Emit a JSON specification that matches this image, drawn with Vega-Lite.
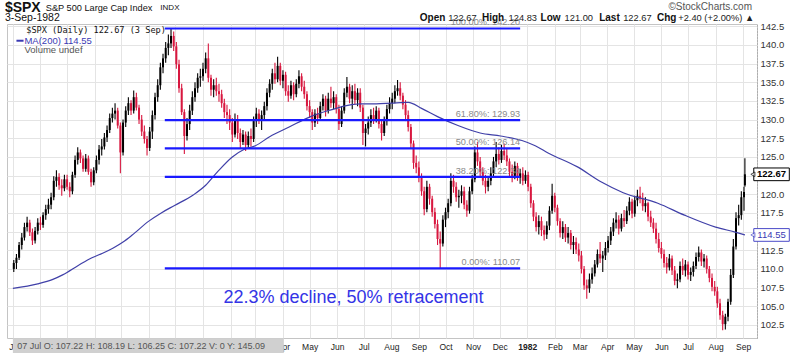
{
"$schema":"https://vega.github.io/schema/vega-lite/v6.json",
"autosize":{"type":"none"},
"padding":{"left":7,"right":43,"top":24,"bottom":15},
"width":750,"height":314,
"background":"#ffffff",
"config":{"font":"Liberation Sans","view":{"stroke":"#c4c4c4"}},
"datasets":{
"px":[
{"d":"1980-06-02","o":110.0,"h":111.2,"l":109.6,"c":110.8},
{"d":"1980-06-05","o":110.8,"h":112.0,"l":110.0,"c":111.5},
{"d":"1980-06-08","o":111.5,"h":113.6,"l":111.2,"c":113.2},
{"d":"1980-06-11","o":113.2,"h":114.8,"l":112.6,"c":114.2},
{"d":"1980-06-14","o":114.2,"h":116.2,"l":113.8,"c":115.6},
{"d":"1980-06-17","o":115.6,"h":117.0,"l":115.0,"c":116.2},
{"d":"1980-06-20","o":116.2,"h":116.6,"l":114.4,"c":114.9},
{"d":"1980-06-23","o":114.9,"h":115.4,"l":113.2,"c":113.8},
{"d":"1980-06-26","o":113.8,"h":115.6,"l":113.4,"c":115.1},
{"d":"1980-06-29","o":115.1,"h":116.8,"l":114.6,"c":116.2},
{"d":"1980-07-02","o":116.2,"h":117.0,"l":115.2,"c":115.9},
{"d":"1980-07-05","o":115.9,"h":117.6,"l":115.5,"c":117.2},
{"d":"1980-07-08","o":117.2,"h":118.6,"l":116.6,"c":118.0},
{"d":"1980-07-11","o":118.0,"h":119.4,"l":117.4,"c":118.6},
{"d":"1980-07-14","o":118.6,"h":120.2,"l":118.0,"c":119.6},
{"d":"1980-07-17","o":119.6,"h":122.4,"l":119.2,"c":121.8},
{"d":"1980-07-20","o":121.8,"h":123.2,"l":121.0,"c":122.3},
{"d":"1980-07-23","o":122.3,"h":122.8,"l":120.6,"c":121.2},
{"d":"1980-07-26","o":121.2,"h":122.0,"l":119.8,"c":120.8},
{"d":"1980-07-29","o":120.8,"h":122.6,"l":120.4,"c":122.0},
{"d":"1980-08-01","o":122.0,"h":122.6,"l":120.6,"c":121.0},
{"d":"1980-08-04","o":121.0,"h":121.6,"l":119.6,"c":120.4},
{"d":"1980-08-07","o":120.4,"h":123.0,"l":120.0,"c":122.6},
{"d":"1980-08-10","o":122.6,"h":125.2,"l":122.2,"c":124.6},
{"d":"1980-08-13","o":124.6,"h":126.3,"l":124.0,"c":125.6},
{"d":"1980-08-16","o":125.6,"h":126.0,"l":124.2,"c":124.8},
{"d":"1980-08-19","o":124.8,"h":125.2,"l":123.0,"c":123.4},
{"d":"1980-08-22","o":123.4,"h":125.4,"l":123.0,"c":124.8},
{"d":"1980-08-25","o":124.8,"h":125.2,"l":122.6,"c":123.0},
{"d":"1980-08-28","o":123.0,"h":123.4,"l":121.0,"c":121.6},
{"d":"1980-08-31","o":121.6,"h":123.6,"l":121.2,"c":123.2},
{"d":"1980-09-03","o":123.2,"h":125.2,"l":122.8,"c":124.6},
{"d":"1980-09-06","o":124.6,"h":126.6,"l":124.0,"c":126.0},
{"d":"1980-09-09","o":126.0,"h":127.4,"l":125.2,"c":126.4},
{"d":"1980-09-12","o":126.4,"h":128.2,"l":126.0,"c":127.6},
{"d":"1980-09-15","o":127.6,"h":129.2,"l":127.0,"c":128.6},
{"d":"1980-09-18","o":128.6,"h":130.8,"l":128.2,"c":130.2},
{"d":"1980-09-21","o":130.2,"h":131.6,"l":129.6,"c":130.8},
{"d":"1980-09-24","o":130.8,"h":132.2,"l":130.0,"c":131.2},
{"d":"1980-09-27","o":131.2,"h":131.6,"l":128.8,"c":129.2},
{"d":"1980-09-30","o":129.2,"h":129.6,"l":122.8,"c":125.6},
{"d":"1980-10-03","o":125.6,"h":130.0,"l":125.2,"c":129.6},
{"d":"1980-10-06","o":129.6,"h":131.8,"l":129.0,"c":131.2},
{"d":"1980-10-09","o":131.2,"h":133.0,"l":130.6,"c":132.2},
{"d":"1980-10-12","o":132.2,"h":132.6,"l":130.6,"c":131.2},
{"d":"1980-10-15","o":131.2,"h":133.9,"l":130.8,"c":133.0},
{"d":"1980-10-18","o":133.0,"h":133.6,"l":131.2,"c":131.6},
{"d":"1980-10-21","o":131.6,"h":132.0,"l":129.4,"c":130.0},
{"d":"1980-10-24","o":130.0,"h":130.6,"l":127.8,"c":128.4},
{"d":"1980-10-27","o":128.4,"h":129.2,"l":126.8,"c":127.4},
{"d":"1980-10-30","o":127.4,"h":127.8,"l":125.2,"c":126.2},
{"d":"1980-11-02","o":126.2,"h":129.0,"l":125.8,"c":128.4},
{"d":"1980-11-05","o":128.4,"h":131.2,"l":127.4,"c":130.6},
{"d":"1980-11-08","o":130.6,"h":133.6,"l":130.0,"c":133.0},
{"d":"1980-11-11","o":133.0,"h":135.4,"l":132.4,"c":134.6},
{"d":"1980-11-14","o":134.6,"h":137.6,"l":134.0,"c":137.0},
{"d":"1980-11-17","o":137.0,"h":138.8,"l":136.2,"c":138.2},
{"d":"1980-11-20","o":138.2,"h":140.4,"l":137.6,"c":139.6},
{"d":"1980-11-23","o":139.6,"h":141.4,"l":138.6,"c":140.2},
{"d":"1980-11-26","o":140.2,"h":142.2,"l":139.6,"c":141.2},
{"d":"1980-11-29","o":141.2,"h":141.8,"l":139.2,"c":139.8},
{"d":"1980-12-02","o":139.8,"h":140.4,"l":136.8,"c":137.4},
{"d":"1980-12-05","o":137.4,"h":138.0,"l":133.6,"c":134.2},
{"d":"1980-12-08","o":134.2,"h":134.8,"l":130.6,"c":131.0},
{"d":"1980-12-11","o":131.0,"h":131.4,"l":125.4,"c":127.8},
{"d":"1980-12-14","o":127.8,"h":130.2,"l":127.2,"c":129.4},
{"d":"1980-12-17","o":129.4,"h":132.0,"l":128.6,"c":131.2},
{"d":"1980-12-20","o":131.2,"h":133.8,"l":130.6,"c":133.0},
{"d":"1980-12-23","o":133.0,"h":135.0,"l":132.4,"c":134.2},
{"d":"1980-12-26","o":134.2,"h":136.2,"l":133.6,"c":135.6},
{"d":"1980-12-29","o":135.6,"h":136.8,"l":134.4,"c":135.8},
{"d":"1981-01-01","o":135.8,"h":137.6,"l":135.2,"c":136.8},
{"d":"1981-01-04","o":136.8,"h":139.0,"l":136.2,"c":138.2},
{"d":"1981-01-07","o":138.2,"h":140.2,"l":135.0,"c":135.6},
{"d":"1981-01-10","o":135.6,"h":136.0,"l":133.2,"c":134.0},
{"d":"1981-01-13","o":134.0,"h":135.4,"l":133.0,"c":134.6},
{"d":"1981-01-16","o":134.6,"h":135.6,"l":133.2,"c":133.8},
{"d":"1981-01-19","o":133.8,"h":134.8,"l":132.4,"c":133.4},
{"d":"1981-01-22","o":133.4,"h":134.0,"l":131.6,"c":132.2},
{"d":"1981-01-25","o":132.2,"h":132.8,"l":130.2,"c":131.0},
{"d":"1981-01-28","o":131.0,"h":132.0,"l":129.4,"c":130.6},
{"d":"1981-01-31","o":130.6,"h":131.4,"l":128.6,"c":129.6},
{"d":"1981-02-03","o":129.6,"h":130.2,"l":127.0,"c":128.0},
{"d":"1981-02-06","o":128.0,"h":130.8,"l":127.6,"c":130.0},
{"d":"1981-02-09","o":130.0,"h":130.6,"l":127.4,"c":128.2},
{"d":"1981-02-12","o":128.2,"h":128.8,"l":126.2,"c":127.0},
{"d":"1981-02-15","o":127.0,"h":128.6,"l":126.6,"c":128.0},
{"d":"1981-02-18","o":128.0,"h":128.4,"l":125.8,"c":126.6},
{"d":"1981-02-21","o":126.6,"h":128.4,"l":126.2,"c":127.8},
{"d":"1981-02-24","o":127.8,"h":128.8,"l":126.4,"c":127.4},
{"d":"1981-02-27","o":127.4,"h":130.4,"l":127.0,"c":129.8},
{"d":"1981-03-02","o":129.8,"h":131.6,"l":129.0,"c":130.8},
{"d":"1981-03-05","o":130.8,"h":131.4,"l":129.4,"c":130.0},
{"d":"1981-03-08","o":130.0,"h":131.2,"l":128.6,"c":130.6},
{"d":"1981-03-11","o":130.6,"h":132.4,"l":130.0,"c":131.8},
{"d":"1981-03-14","o":131.8,"h":134.2,"l":131.2,"c":133.6},
{"d":"1981-03-17","o":133.6,"h":135.4,"l":133.0,"c":134.8},
{"d":"1981-03-20","o":134.8,"h":136.8,"l":134.0,"c":136.2},
{"d":"1981-03-23","o":136.2,"h":137.6,"l":134.8,"c":135.4},
{"d":"1981-03-26","o":135.4,"h":138.4,"l":135.0,"c":137.2},
{"d":"1981-03-29","o":137.2,"h":137.6,"l":134.6,"c":135.2},
{"d":"1981-04-01","o":135.2,"h":136.6,"l":134.2,"c":136.0},
{"d":"1981-04-04","o":136.0,"h":136.4,"l":133.2,"c":133.8},
{"d":"1981-04-07","o":133.8,"h":134.6,"l":132.4,"c":133.2},
{"d":"1981-04-10","o":133.2,"h":135.2,"l":132.8,"c":134.6},
{"d":"1981-04-13","o":134.6,"h":135.0,"l":132.6,"c":133.4},
{"d":"1981-04-16","o":133.4,"h":135.4,"l":133.0,"c":134.8},
{"d":"1981-04-19","o":134.8,"h":136.6,"l":134.2,"c":135.8},
{"d":"1981-04-22","o":135.8,"h":136.2,"l":133.8,"c":134.4},
{"d":"1981-04-25","o":134.4,"h":135.2,"l":132.8,"c":133.4},
{"d":"1981-04-28","o":133.4,"h":133.8,"l":131.2,"c":131.8},
{"d":"1981-05-01","o":131.8,"h":132.6,"l":130.2,"c":131.0},
{"d":"1981-05-04","o":131.0,"h":131.4,"l":128.6,"c":129.6},
{"d":"1981-05-07","o":129.6,"h":131.4,"l":129.0,"c":130.8},
{"d":"1981-05-10","o":130.8,"h":131.6,"l":129.4,"c":130.2},
{"d":"1981-05-13","o":130.2,"h":132.4,"l":129.8,"c":131.8},
{"d":"1981-05-16","o":131.8,"h":133.4,"l":131.2,"c":132.8},
{"d":"1981-05-19","o":132.8,"h":133.2,"l":130.4,"c":131.2},
{"d":"1981-05-22","o":131.2,"h":133.6,"l":130.8,"c":132.8},
{"d":"1981-05-25","o":132.8,"h":134.4,"l":131.6,"c":132.2},
{"d":"1981-05-28","o":132.2,"h":133.8,"l":131.4,"c":133.0},
{"d":"1981-05-31","o":133.0,"h":133.4,"l":130.8,"c":131.4},
{"d":"1981-06-03","o":131.4,"h":132.0,"l":128.6,"c":129.4},
{"d":"1981-06-06","o":129.4,"h":131.8,"l":129.0,"c":131.2},
{"d":"1981-06-09","o":131.2,"h":134.2,"l":130.8,"c":133.6},
{"d":"1981-06-12","o":133.6,"h":135.7,"l":133.0,"c":134.4},
{"d":"1981-06-15","o":134.4,"h":134.8,"l":132.2,"c":132.8},
{"d":"1981-06-18","o":132.8,"h":134.6,"l":131.4,"c":133.8},
{"d":"1981-06-21","o":133.8,"h":134.8,"l":132.0,"c":132.6},
{"d":"1981-06-24","o":132.6,"h":134.2,"l":131.8,"c":133.6},
{"d":"1981-06-27","o":133.6,"h":134.2,"l":131.0,"c":131.6},
{"d":"1981-06-30","o":131.6,"h":132.0,"l":126.6,"c":128.2},
{"d":"1981-07-03","o":128.2,"h":129.4,"l":126.4,"c":128.8},
{"d":"1981-07-06","o":128.8,"h":130.4,"l":128.0,"c":129.6},
{"d":"1981-07-09","o":129.6,"h":131.4,"l":129.0,"c":130.6},
{"d":"1981-07-12","o":130.6,"h":131.6,"l":129.4,"c":130.0},
{"d":"1981-07-15","o":130.0,"h":131.8,"l":129.6,"c":131.2},
{"d":"1981-07-18","o":131.2,"h":131.6,"l":128.8,"c":129.4},
{"d":"1981-07-21","o":129.4,"h":129.8,"l":127.2,"c":128.2},
{"d":"1981-07-24","o":128.2,"h":130.4,"l":127.8,"c":129.8},
{"d":"1981-07-27","o":129.8,"h":132.0,"l":129.2,"c":131.4},
{"d":"1981-07-30","o":131.4,"h":133.0,"l":130.8,"c":132.2},
{"d":"1981-08-02","o":132.2,"h":133.6,"l":131.4,"c":132.8},
{"d":"1981-08-05","o":132.8,"h":134.6,"l":132.2,"c":133.8},
{"d":"1981-08-08","o":133.8,"h":135.3,"l":133.2,"c":134.2},
{"d":"1981-08-11","o":134.2,"h":135.0,"l":132.6,"c":133.2},
{"d":"1981-08-14","o":133.2,"h":133.6,"l":131.4,"c":132.0},
{"d":"1981-08-17","o":132.0,"h":132.6,"l":129.8,"c":130.6},
{"d":"1981-08-20","o":130.6,"h":131.2,"l":128.4,"c":129.0},
{"d":"1981-08-23","o":129.0,"h":129.4,"l":126.2,"c":126.8},
{"d":"1981-08-26","o":126.8,"h":127.2,"l":123.4,"c":124.2},
{"d":"1981-08-29","o":124.2,"h":125.2,"l":122.8,"c":123.6},
{"d":"1981-09-01","o":123.6,"h":124.4,"l":121.6,"c":122.4},
{"d":"1981-09-04","o":122.4,"h":122.8,"l":119.8,"c":120.4},
{"d":"1981-09-07","o":120.4,"h":121.0,"l":117.2,"c":118.0},
{"d":"1981-09-10","o":118.0,"h":121.8,"l":117.6,"c":121.0},
{"d":"1981-09-13","o":121.0,"h":121.4,"l":118.6,"c":119.4},
{"d":"1981-09-16","o":119.4,"h":119.8,"l":117.0,"c":117.6},
{"d":"1981-09-19","o":117.6,"h":118.2,"l":115.4,"c":116.0},
{"d":"1981-09-22","o":116.0,"h":116.6,"l":113.2,"c":114.0},
{"d":"1981-09-25","o":114.0,"h":115.0,"l":110.07,"c":113.4},
{"d":"1981-09-28","o":113.4,"h":117.2,"l":113.0,"c":116.6},
{"d":"1981-10-01","o":116.6,"h":118.2,"l":115.6,"c":117.6},
{"d":"1981-10-04","o":117.6,"h":119.4,"l":116.8,"c":118.8},
{"d":"1981-10-07","o":118.8,"h":122.8,"l":118.4,"c":121.8},
{"d":"1981-10-10","o":121.8,"h":122.6,"l":120.2,"c":121.0},
{"d":"1981-10-13","o":121.0,"h":121.6,"l":119.0,"c":119.6},
{"d":"1981-10-16","o":119.6,"h":120.6,"l":118.2,"c":119.8},
{"d":"1981-10-19","o":119.8,"h":121.2,"l":118.8,"c":120.4},
{"d":"1981-10-22","o":120.4,"h":121.0,"l":118.0,"c":118.6},
{"d":"1981-10-25","o":118.6,"h":119.2,"l":117.0,"c":117.8},
{"d":"1981-10-28","o":117.8,"h":121.0,"l":117.4,"c":120.4},
{"d":"1981-10-31","o":120.4,"h":122.6,"l":120.0,"c":122.0},
{"d":"1981-11-03","o":122.0,"h":126.4,"l":121.6,"c":125.6},
{"d":"1981-11-06","o":125.6,"h":127.0,"l":123.8,"c":124.4},
{"d":"1981-11-09","o":124.4,"h":125.0,"l":122.4,"c":123.0},
{"d":"1981-11-12","o":123.0,"h":123.6,"l":121.2,"c":121.8},
{"d":"1981-11-15","o":121.8,"h":122.6,"l":120.1,"c":121.0},
{"d":"1981-11-18","o":121.0,"h":122.4,"l":120.4,"c":121.8},
{"d":"1981-11-21","o":121.8,"h":123.6,"l":121.2,"c":122.8},
{"d":"1981-11-24","o":122.8,"h":125.0,"l":122.2,"c":124.4},
{"d":"1981-11-27","o":124.4,"h":127.0,"l":123.6,"c":125.4},
{"d":"1981-11-30","o":125.4,"h":126.3,"l":124.0,"c":124.6},
{"d":"1981-12-03","o":124.6,"h":126.6,"l":124.2,"c":125.8},
{"d":"1981-12-06","o":125.8,"h":126.8,"l":124.6,"c":125.2},
{"d":"1981-12-09","o":125.2,"h":126.2,"l":123.8,"c":124.4},
{"d":"1981-12-12","o":124.4,"h":124.8,"l":122.4,"c":123.0},
{"d":"1981-12-15","o":123.0,"h":124.0,"l":121.6,"c":122.4},
{"d":"1981-12-18","o":122.4,"h":124.4,"l":122.0,"c":123.8},
{"d":"1981-12-21","o":123.8,"h":124.2,"l":121.8,"c":122.2},
{"d":"1981-12-24","o":122.2,"h":123.4,"l":121.4,"c":122.8},
{"d":"1981-12-27","o":122.8,"h":123.6,"l":121.2,"c":121.8},
{"d":"1981-12-30","o":121.8,"h":123.2,"l":121.4,"c":122.6},
{"d":"1982-01-02","o":122.6,"h":123.0,"l":120.4,"c":121.0},
{"d":"1982-01-05","o":121.0,"h":121.4,"l":118.2,"c":118.8},
{"d":"1982-01-08","o":118.8,"h":119.2,"l":116.4,"c":117.0},
{"d":"1982-01-11","o":117.0,"h":117.6,"l":115.0,"c":115.6},
{"d":"1982-01-14","o":115.6,"h":117.2,"l":114.6,"c":116.4},
{"d":"1982-01-17","o":116.4,"h":117.0,"l":114.4,"c":115.2},
{"d":"1982-01-20","o":115.2,"h":115.8,"l":113.8,"c":114.6},
{"d":"1982-01-23","o":114.6,"h":116.4,"l":114.0,"c":115.8},
{"d":"1982-01-26","o":115.8,"h":118.4,"l":115.2,"c":117.8},
{"d":"1982-01-29","o":117.8,"h":121.4,"l":117.4,"c":119.8},
{"d":"1982-02-01","o":119.8,"h":120.2,"l":117.6,"c":118.2},
{"d":"1982-02-04","o":118.2,"h":118.6,"l":115.8,"c":116.4},
{"d":"1982-02-07","o":116.4,"h":116.8,"l":114.2,"c":114.8},
{"d":"1982-02-10","o":114.8,"h":116.4,"l":114.0,"c":115.6},
{"d":"1982-02-13","o":115.6,"h":116.0,"l":113.6,"c":114.2},
{"d":"1982-02-16","o":114.2,"h":115.6,"l":113.4,"c":114.8},
{"d":"1982-02-19","o":114.8,"h":115.2,"l":112.6,"c":113.2},
{"d":"1982-02-22","o":113.2,"h":114.4,"l":112.0,"c":113.6},
{"d":"1982-02-25","o":113.6,"h":114.2,"l":112.0,"c":112.6},
{"d":"1982-02-28","o":112.6,"h":113.4,"l":111.0,"c":111.8},
{"d":"1982-03-03","o":111.8,"h":112.4,"l":109.4,"c":110.0},
{"d":"1982-03-06","o":110.0,"h":110.4,"l":107.2,"c":107.8},
{"d":"1982-03-09","o":107.8,"h":108.6,"l":106.0,"c":107.4},
{"d":"1982-03-12","o":107.4,"h":109.4,"l":106.8,"c":108.6},
{"d":"1982-03-15","o":108.6,"h":110.2,"l":108.0,"c":109.4},
{"d":"1982-03-18","o":109.4,"h":111.2,"l":109.0,"c":110.6},
{"d":"1982-03-21","o":110.6,"h":112.6,"l":110.2,"c":112.0},
{"d":"1982-03-24","o":112.0,"h":113.6,"l":110.8,"c":111.4},
{"d":"1982-03-27","o":111.4,"h":112.4,"l":109.6,"c":111.8},
{"d":"1982-03-30","o":111.8,"h":113.6,"l":111.2,"c":112.8},
{"d":"1982-04-02","o":112.8,"h":114.4,"l":112.2,"c":113.8},
{"d":"1982-04-05","o":113.8,"h":115.6,"l":113.2,"c":115.0},
{"d":"1982-04-08","o":115.0,"h":116.8,"l":114.4,"c":116.2},
{"d":"1982-04-11","o":116.2,"h":117.6,"l":115.4,"c":116.6},
{"d":"1982-04-14","o":116.6,"h":117.2,"l":114.6,"c":115.4},
{"d":"1982-04-17","o":115.4,"h":117.4,"l":115.0,"c":116.8},
{"d":"1982-04-20","o":116.8,"h":117.9,"l":115.6,"c":116.4},
{"d":"1982-04-23","o":116.4,"h":118.4,"l":116.0,"c":117.8},
{"d":"1982-04-26","o":117.8,"h":119.6,"l":117.2,"c":119.0},
{"d":"1982-04-29","o":119.0,"h":119.4,"l":116.8,"c":117.4},
{"d":"1982-05-02","o":117.4,"h":119.8,"l":117.0,"c":119.2},
{"d":"1982-05-05","o":119.2,"h":120.6,"l":118.4,"c":119.8},
{"d":"1982-05-08","o":119.8,"h":121.0,"l":118.8,"c":119.4},
{"d":"1982-05-11","o":119.4,"h":120.2,"l":117.8,"c":118.4},
{"d":"1982-05-14","o":118.4,"h":119.6,"l":117.6,"c":118.8},
{"d":"1982-05-17","o":118.8,"h":119.0,"l":116.4,"c":117.0},
{"d":"1982-05-20","o":117.0,"h":117.8,"l":115.6,"c":116.2},
{"d":"1982-05-23","o":116.2,"h":116.8,"l":114.8,"c":115.4},
{"d":"1982-05-26","o":115.4,"h":116.2,"l":113.4,"c":114.0},
{"d":"1982-05-29","o":114.0,"h":114.8,"l":112.2,"c":112.8},
{"d":"1982-06-01","o":112.8,"h":113.6,"l":111.4,"c":112.0},
{"d":"1982-06-04","o":112.0,"h":112.6,"l":110.2,"c":110.8},
{"d":"1982-06-07","o":110.8,"h":111.6,"l":109.4,"c":110.2},
{"d":"1982-06-10","o":110.2,"h":112.0,"l":109.8,"c":111.4},
{"d":"1982-06-13","o":111.4,"h":111.8,"l":109.2,"c":109.8},
{"d":"1982-06-16","o":109.8,"h":110.4,"l":107.8,"c":108.4},
{"d":"1982-06-19","o":108.4,"h":109.4,"l":107.4,"c":108.6},
{"d":"1982-06-22","o":108.6,"h":111.0,"l":108.2,"c":110.4},
{"d":"1982-06-25","o":110.4,"h":111.4,"l":109.2,"c":109.8},
{"d":"1982-06-28","o":109.8,"h":111.2,"l":109.0,"c":110.6},
{"d":"1982-07-01","o":110.6,"h":111.0,"l":108.6,"c":109.2},
{"d":"1982-07-04","o":109.2,"h":110.2,"l":108.4,"c":109.6},
{"d":"1982-07-07","o":109.6,"h":111.0,"l":109.0,"c":110.4},
{"d":"1982-07-10","o":110.4,"h":112.2,"l":110.0,"c":111.6},
{"d":"1982-07-13","o":111.6,"h":113.0,"l":111.0,"c":112.2},
{"d":"1982-07-16","o":112.2,"h":112.6,"l":110.4,"c":111.0},
{"d":"1982-07-19","o":111.0,"h":112.0,"l":110.2,"c":111.4},
{"d":"1982-07-22","o":111.4,"h":111.8,"l":109.4,"c":110.0},
{"d":"1982-07-25","o":110.0,"h":110.4,"l":108.2,"c":108.8},
{"d":"1982-07-28","o":108.8,"h":109.4,"l":107.0,"c":107.6},
{"d":"1982-07-31","o":107.6,"h":108.4,"l":106.4,"c":107.0},
{"d":"1982-08-03","o":107.0,"h":107.6,"l":104.8,"c":105.4},
{"d":"1982-08-06","o":105.4,"h":106.0,"l":103.2,"c":103.8},
{"d":"1982-08-09","o":103.8,"h":104.4,"l":101.8,"c":102.6},
{"d":"1982-08-12","o":102.6,"h":104.0,"l":101.9,"c":103.6},
{"d":"1982-08-15","o":103.6,"h":106.0,"l":103.0,"c":105.6},
{"d":"1982-08-18","o":105.6,"h":110.0,"l":105.2,"c":109.2},
{"d":"1982-08-21","o":109.2,"h":114.0,"l":108.8,"c":113.0},
{"d":"1982-08-24","o":113.0,"h":117.6,"l":112.6,"c":116.8},
{"d":"1982-08-27","o":116.8,"h":118.6,"l":115.8,"c":117.2},
{"d":"1982-08-30","o":117.2,"h":120.4,"l":116.6,"c":119.6},
{"d":"1982-09-02","o":119.6,"h":121.0,"l":117.8,"c":120.3},
{"d":"1982-09-03","o":121.2,"h":124.83,"l":121.0,"c":122.67}
],
"ma":[
{"d":"1980-06-01","v":107.4},{"d":"1980-06-29","v":108.0},{"d":"1980-07-16","v":108.6},{"d":"1980-07-27","v":109.2},
{"d":"1980-08-14","v":110.5},{"d":"1980-08-29","v":111.5},{"d":"1980-09-10","v":112.1},{"d":"1980-09-22","v":112.8},
{"d":"1980-10-03","v":113.6},{"d":"1980-10-13","v":114.5},{"d":"1980-11-01","v":116.4},{"d":"1980-11-15","v":117.5},
{"d":"1980-11-30","v":118.5},{"d":"1980-12-21","v":119.9},{"d":"1981-01-04","v":121.2},{"d":"1981-01-18","v":123.1},
{"d":"1981-02-03","v":125.0},{"d":"1981-02-16","v":126.0},{"d":"1981-03-01","v":126.5},{"d":"1981-03-17","v":127.7},
{"d":"1981-04-08","v":129.0},{"d":"1981-05-02","v":130.4},{"d":"1981-05-25","v":131.3},{"d":"1981-06-13","v":131.9},
{"d":"1981-06-27","v":132.1},{"d":"1981-07-15","v":132.1},{"d":"1981-08-01","v":132.2},{"d":"1981-08-20","v":132.3},
{"d":"1981-09-04","v":131.5},{"d":"1981-09-22","v":130.4},{"d":"1981-10-15","v":129.2},{"d":"1981-11-09","v":128.2},
{"d":"1981-12-02","v":127.8},{"d":"1981-12-26","v":127.2},{"d":"1982-01-10","v":126.5},{"d":"1982-01-25","v":125.5},
{"d":"1982-02-26","v":123.7},{"d":"1982-03-26","v":121.6},{"d":"1982-04-19","v":120.2},{"d":"1982-05-28","v":118.8},
{"d":"1982-06-27","v":117.2},{"d":"1982-08-01","v":115.6},{"d":"1982-08-24","v":114.9},{"d":"1982-09-03","v":114.55}
],
"fib":[
{"lvl":142.2,"lab":"100.00%: 142.20"},
{"lvl":129.93,"lab":"61.80%: 129.93"},
{"lvl":126.14,"lab":"50.00%: 126.14"},
{"lvl":122.34,"lab":"38.20%: 122.34"},
{"lvl":110.07,"lab":"0.00%: 110.07"}
]
},
"layer":[
{"data":{"name":"px"},
 "mark":{"type":"rule","strokeWidth":1.1},
 "encoding":{
  "x":{"field":"d","type":"temporal",
   "scale":{"domain":[{"year":1980,"month":5,"date":31},{"year":1982,"month":9,"date":11}]},
   "axis":{"title":null,"tickCount":{"interval":"month","step":1},
    "labelExpr":"(datum.value < datetime(1980,5,15)) ? 'J' : ((datum.value > datetime(1980,5,15) && datum.value < datetime(1981,2,15)) ? '' : (month(datum.value)==0 ? timeFormat(datum.value,'%Y') : timeFormat(datum.value,'%b')))",
    "labelAlign":{"condition":{"test":"datum.value < datetime(1980,5,15)","value":"right"},"value":"center"},
    "labelFontWeight":{"condition":{"test":"month(datum.value)==0","value":"bold"},"value":"normal"},
    "grid":true,"gridColor":"#e4e4e4","ticks":false,"domain":false,"labelFontSize":8.5,"labelColor":"#222",
    "labelPadding":4,"labelFlush":false,"labelOverlap":false,"labelBound":false}},
  "y":{"field":"l","type":"quantitative",
   "scale":{"domain":[100.75,142.8],"zero":false,"nice":false},
   "axis":{"orient":"right","title":null,"values":[102.5,105,107.5,110,112.5,115,117.5,120,122.5,125,127.5,130,132.5,135,137.5,140,142.5],
    "tickCount":40,
    "labelExpr":"(datum.value == 122.5 || datum.value == 115) ? '' : format(datum.value, '.1f')",
    "grid":true,"gridColor":"#e4e4e4","ticks":false,"domainDash":[1,2],"domainColor":"#999999",
    "labelFontSize":9.5,"labelColor":"#333333","labelPadding":3,"labelOverlap":false,"labelBound":false}},
  "y2":{"field":"h"},
  "color":{"condition":{"test":"datum.c < datum.o","value":"#d8173f"},"value":"#000000"}
 }},
{"data":{"name":"px"},
 "mark":{"type":"bar","size":2},
 "encoding":{
  "x":{"field":"d","type":"temporal"},
  "y":{"field":"o","type":"quantitative"},
  "y2":{"field":"c"},
  "color":{"condition":{"test":"datum.c < datum.o","value":"#d8173f"},"value":"#000000"}
 }},
{"data":{"name":"ma"},
 "mark":{"type":"line","color":"#4040a8","strokeWidth":1.2,"interpolate":"monotone"},
 "encoding":{"x":{"field":"d","type":"temporal"},"y":{"field":"v","type":"quantitative"}}},
{"data":{"name":"fib"},
 "mark":{"type":"rule","color":"#1a1aff","strokeWidth":2.2},
 "encoding":{"x":{"datum":{"year":1980,"month":11,"date":19}},"x2":{"datum":{"year":1981,"month":12,"date":24}},
  "y":{"field":"lvl","type":"quantitative"}}},
{"data":{"name":"fib"},
 "mark":{"type":"text","align":"right","baseline":"middle","dy":-6,"fontSize":9.2,"color":"#8a8a8a"},
 "encoding":{"x":{"datum":{"year":1981,"month":12,"date":24}},"y":{"field":"lvl","type":"quantitative"},"text":{"field":"lab"}}},
{"data":{"values":[{"t":"22.3% decline, 50% retracement"}]},
 "mark":{"type":"text","align":"left","baseline":"middle","fontSize":18,"color":"#3434e6"},
 "encoding":{"x":{"datum":{"year":1981,"month":1,"date":24}},"y":{"datum":106.07},"text":{"field":"t"}}},
{"data":{"values":[{"t":"$SPX (Daily) 122.67 (3 Sep)"}]},
 "mark":{"type":"text","align":"left","baseline":"middle","fontSize":8.6,"font":"DejaVu Sans Mono","color":"#111111"},
 "encoding":{"x":{"datum":{"year":1980,"month":6,"date":16}},"y":{"datum":141.96},"text":{"field":"t"}}},
{"data":{"values":[{"t":"MA(200) 114.55"}]},
 "mark":{"type":"text","align":"left","baseline":"middle","fontSize":9.5,"color":"#3a3ab4"},
 "encoding":{"x":{"datum":{"year":1980,"month":6,"date":14}},"y":{"datum":140.56},"text":{"field":"t"}}},
{"data":{"values":[{"t":"Volume undef"}]},
 "mark":{"type":"text","align":"left","baseline":"middle","fontSize":9.5,"color":"#555555"},
 "encoding":{"x":{"datum":{"year":1980,"month":6,"date":14}},"y":{"datum":139.38},"text":{"field":"t"}}},
{"data":{"values":[{}]},
 "mark":{"type":"rule","color":"#3a3ab4","strokeWidth":2},
 "encoding":{"x":{"datum":{"year":1980,"month":6,"date":5}},"x2":{"datum":{"year":1980,"month":6,"date":13}},"y":{"datum":140.56}}},
{"data":{"values":[{"t":"$SPX"}]},
 "mark":{"type":"text","align":"left","baseline":"middle","fontSize":14,"fontWeight":"bold","color":"#111111"},
 "encoding":{"x":{"datum":{"year":1980,"month":5,"date":23}},"y":{"datum":145.0},"text":{"field":"t"}}},
{"data":{"values":[{"t":"S&P 500 Large Cap Index"}]},
 "mark":{"type":"text","align":"left","baseline":"middle","fontSize":9.2,"color":"#111111"},
 "encoding":{"x":{"datum":{"year":1980,"month":7,"date":8}},"y":{"datum":145.0},"text":{"field":"t"}}},
{"data":{"values":[{"t":"INDX"}]},
 "mark":{"type":"text","align":"left","baseline":"middle","fontSize":8,"color":"#111111"},
 "encoding":{"x":{"datum":{"year":1980,"month":11,"date":14}},"y":{"datum":145.0},"text":{"field":"t"}}},
{"data":{"values":[{"t":"3-Sep-1982"}]},
 "mark":{"type":"text","align":"left","baseline":"middle","fontSize":10.5,"color":"#111111"},
 "encoding":{"x":{"datum":{"year":1980,"month":5,"date":23}},"y":{"datum":143.57},"text":{"field":"t"}}},
{"data":{"values":[{"t":"©StockCharts.com"}]},
 "mark":{"type":"text","align":"right","baseline":"middle","fontSize":10,"color":"#555555"},
 "encoding":{"x":{"datum":{"year":1982,"month":9,"date":11}},"y":{"datum":145.04},"text":{"field":"t"}}},
{"data":{"values":[
  {"d":"1981-09-02","t":"Open"},{"d":"1981-11-11","t":"High"},{"d":"1982-01-16","t":"Low"},{"d":"1982-03-23","t":"Last"},{"d":"1982-05-27","t":"Chg"}]},
 "mark":{"type":"text","align":"left","baseline":"middle","fontSize":10,"fontWeight":"bold","color":"#111111"},
 "encoding":{"x":{"field":"d","type":"temporal"},"y":{"datum":143.57},"text":{"field":"t"}}},
{"data":{"values":[
  {"d":"1981-10-04","t":"122.67"},{"d":"1981-12-11","t":"124.83"},{"d":"1982-02-12","t":"121.00"},{"d":"1982-04-19","t":"122.67"},{"d":"1982-06-20","t":"+2.40 (+2.00%) ▲"}]},
 "mark":{"type":"text","align":"left","baseline":"middle","fontSize":9.3,"color":"#222222"},
 "encoding":{"x":{"field":"d","type":"temporal"},"y":{"datum":143.57},"text":{"field":"t"}}},
{"data":{"values":[{}]},
 "mark":{"type":"rect","fill":"#d0d0d0"},
 "encoding":{"x":{"datum":{"year":1980,"month":6,"date":1}},"x2":{"datum":{"year":1981,"month":4,"date":2}},"y":{"datum":100.72},"y2":{"datum":98.71}}},
{"data":{"values":[{"t":"07 Jul O: 107.22  H: 108.19  L: 106.25  C: 107.22  V: 0  Y: 145.09"}]},
 "mark":{"type":"text","align":"left","baseline":"middle","fontSize":9,"color":"#555555"},
 "encoding":{"x":{"datum":{"year":1980,"month":6,"date":6}},"y":{"datum":99.7},"text":{"field":"t"}}},
{"data":{"values":[{"p":122.67,"lo":121.82,"hi":123.52},{"p":114.55,"lo":113.7,"hi":115.4}]},
 "mark":{"type":"rect","fill":"#ffffff","strokeWidth":1},
 "encoding":{"x":{"datum":{"year":1982,"month":9,"date":13}},"x2":{"datum":{"year":1982,"month":10,"date":23}},
  "y":{"field":"lo","type":"quantitative"},"y2":{"field":"hi"},
  "stroke":{"condition":{"test":"datum.p > 120","value":"#000000"},"value":"#4a4ac8"}}},
{"data":{"values":[{"p":122.67},{"p":114.55}]},
 "mark":{"type":"point","shape":"triangle-left","size":22,"filled":true,"fill":"#ffffff","strokeWidth":1},
 "encoding":{"x":{"datum":{"year":1982,"month":9,"date":12}},"y":{"field":"p","type":"quantitative"},
  "stroke":{"condition":{"test":"datum.p > 120","value":"#000000"},"value":"#4a4ac8"}}},
{"data":{"values":[{"t":"122.67"}]},
 "mark":{"type":"text","align":"center","baseline":"middle","fontSize":9.5,"fontWeight":"bold","color":"#000000"},
 "encoding":{"x":{"datum":{"year":1982,"month":10,"date":3}},"y":{"datum":122.67},"text":{"field":"t"}}},
{"data":{"values":[{"t":"114.55"}]},
 "mark":{"type":"text","align":"center","baseline":"middle","fontSize":9.5,"color":"#3a3ab4"},
 "encoding":{"x":{"datum":{"year":1982,"month":10,"date":3}},"y":{"datum":114.55},"text":{"field":"t"}}}
]
}
